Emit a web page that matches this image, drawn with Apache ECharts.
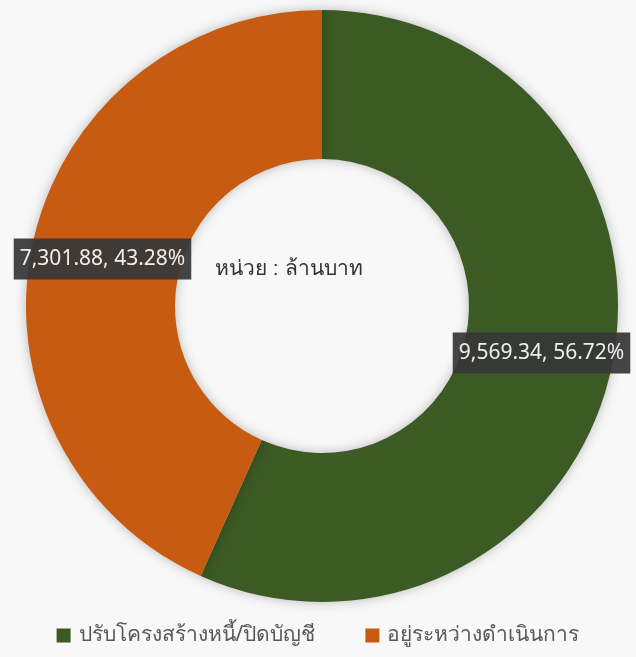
<!DOCTYPE html>
<html>
<head>
<meta charset="utf-8">
<style>
  html, body { margin: 0; padding: 0; background: #f8f8f8; }
  #chart { width: 636px; height: 657px; }
</style>
<script src="https://cdn.jsdelivr.net/npm/echarts@6/dist/echarts.min.js"></script>
</head>
<body>
<div id="chart"></div>
<script>
// Debt status breakdown (million baht)
const categories = ['ปรับโครงสร้างหนี้/ปิดบัญชี', 'อยู่ระหว่างดำเนินการ'];
const values = [9569.34, 7301.88];
const colors = ['#3c5a23', '#c85b12'];
const unitText = 'หน่วย : ล้านบาท';

const fmt = v => v.toLocaleString('en-US', { minimumFractionDigits: 2, maximumFractionDigits: 2 });

const chart = echarts.init(document.getElementById('chart'));
chart.setOption({
  backgroundColor: '#f8f8f8',
  animation: false,
  color: colors,
  textStyle: { fontFamily: 'Noto Sans, sans-serif' },
  legend: {
    bottom: 6,
    left: 'center',
    itemWidth: 14,
    itemHeight: 14,
    itemGap: 50,
    icon: 'rect',
    textStyle: { fontSize: 21, color: '#595959', padding: [0, 0, 0, 3] },
    data: categories
  },
  graphic: [{
    type: 'text',
    left: 215,
    top: 259,
    style: { text: unitText, fontSize: 21, fill: '#333333' }
  }],
  series: [{
    type: 'pie',
    center: [322, 306],
    radius: [147, 296],
    startAngle: 90,
    clockwise: true,
    data: categories.map((c, i) => ({ name: c, value: values[i] })),
    itemStyle: {
      shadowBlur: 12,
      shadowColor: 'rgba(0,0,0,0.25)'
    },
    label: {
      position: 'inside',
      formatter: p => fmt(p.value) + ', ' + p.percent.toFixed(2) + '%',
      color: '#eeeeee',
      fontSize: 21,
      backgroundColor: 'rgba(55,55,55,0.93)',
      padding: [10, 6, 10, 6]
    },
    labelLine: { show: false },
    emphasis: { disabled: true }
  }]
});
</script>
</body>
</html>
